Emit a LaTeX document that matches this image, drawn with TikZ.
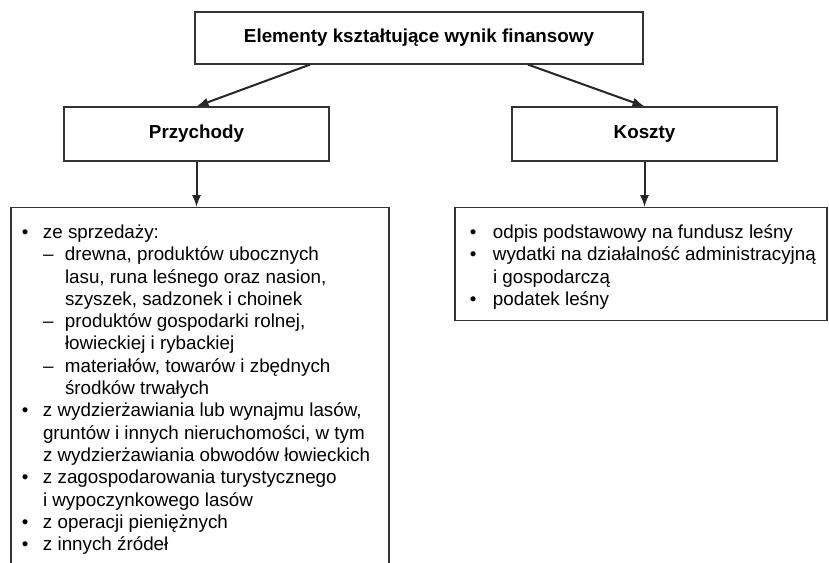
\documentclass[tikz,border=0pt]{standalone}
\usepackage{fontspec}
\setmainfont{Liberation Sans}
\usetikzlibrary{arrows.meta}
% bullet item: #1 bullet offset, #2 text indent
\newcommand{\pkt}[2]{\par\hangindent=#2\hangafter=1\noindent\makebox[#2][l]{\hspace{#1}\textbullet}}
% dash item
\newcommand{\myslnik}{\par\hangindent=27pt\hangafter=1\noindent\makebox[27pt][l]{\hspace{16pt}--}}

\begin{document}
\begin{tikzpicture}[x=0.5pt,y=-0.5pt,
    font=\fontsize{9.4pt}{11.15pt}\selectfont,
    ramka/.style={draw=black!80, line width=0.6pt, inner sep=0pt},
    strzalka/.style={-{Latex[length=6pt,width=4.6pt]}, line width=1pt, draw=black!85}]
        \useasboundingbox (0,0) rectangle (829,562);
        \clip (0,0) rectangle (829,562);

        \node[ramka, minimum width=224pt, minimum height=26pt] (gora) at (419,38) {\textbf{Elementy kształtujące wynik finansowy}};
        \node[ramka, minimum width=132.5pt, minimum height=27pt] (przychody) at (196.5,134) {\textbf{Przychody}};
        \node[ramka, minimum width=132.5pt, minimum height=27pt] (koszty) at (644.5,134) {\textbf{Koszty}};

        %lists
        \node[ramka, anchor=north] (lista) at (200,207) {\parbox[t][190pt][t]{189pt}{\raggedright
            \pkt{5.4pt}{16pt}\rule{0pt}{15.4pt}ze sprzedaży:
            \myslnik drewna, produktów ubocznych\newline lasu, runa leśnego oraz nasion,\newline szyszek, sadzonek i choinek
            \myslnik produktów gospodarki rolnej,\newline łowieckiej i rybackiej
            \myslnik materiałów, towarów i zbędnych\newline środków trwałych
            \pkt{5.4pt}{16pt}z wydzierżawiania lub wynajmu lasów,\newline gruntów i innych nieruchomości, w tym\newline z wydzierżawiania obwodów łowieckich
            \pkt{5.4pt}{16pt}z zagospodarowania turystycznego\newline i wypoczynkowego lasów
            \pkt{5.4pt}{16pt}z operacji pieniężnych
            \pkt{5.4pt}{16pt}z innych źródeł\par}};
        \node[ramka, anchor=north] (prawa) at (641,207) {\parbox[t][56.5pt][t]{186pt}{\raggedright
            \pkt{7.4pt}{19pt}\rule{0pt}{15.4pt}odpis podstawowy na fundusz leśny
            \pkt{7.4pt}{19pt}wydatki na działalność administracyjną\newline i gospodarczą
            \pkt{7.4pt}{19pt}podatek leśny\par}};

        %arrows
        \draw[strzalka] ([xshift=-54.5pt]gora.south) -- (przychody.north);
        \draw[strzalka] ([xshift=54.5pt]gora.south) -- (koszty.north);
        \draw[strzalka] (przychody.south) -- (przychody.south |- lista.north);
        \draw[strzalka] (koszty.south) -- (koszty.south |- prawa.north);
\end{tikzpicture}
\end{document}
